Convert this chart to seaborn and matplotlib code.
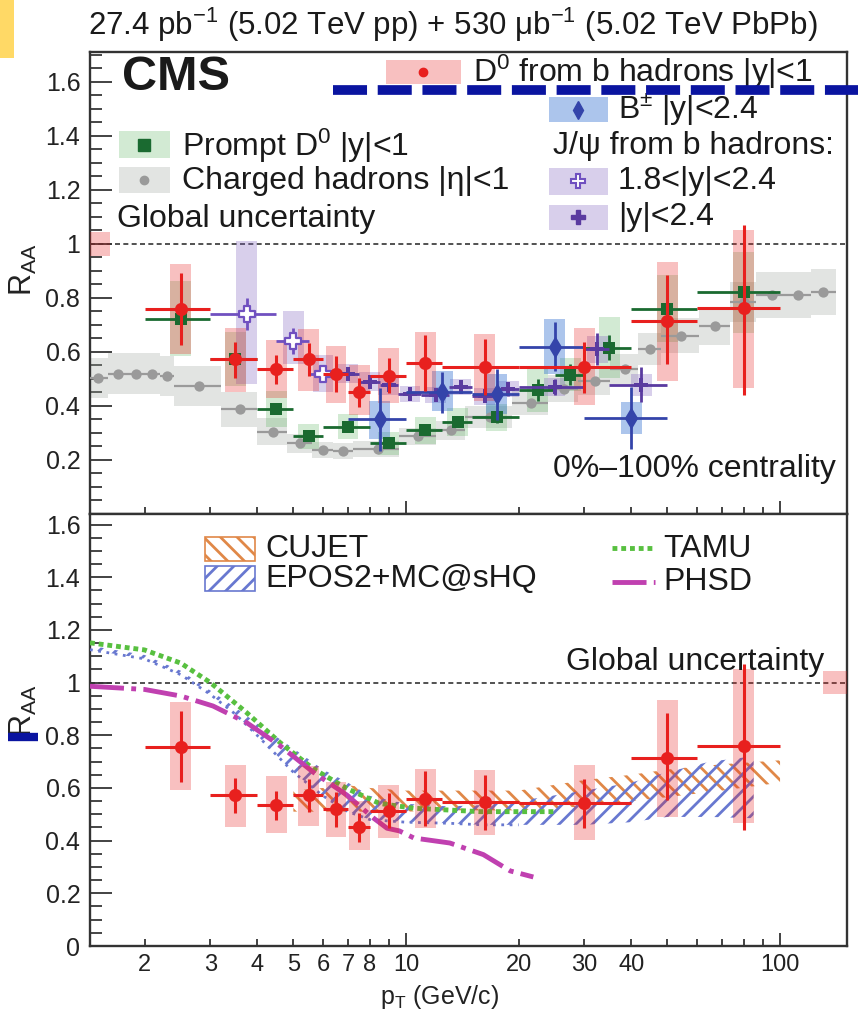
import numpy as np
import matplotlib
matplotlib.use("Agg")
import matplotlib.pyplot as plt
import seaborn as sns
from matplotlib.patches import Rectangle
from matplotlib.lines import Line2D
from matplotlib.ticker import FixedLocator, FuncFormatter, MultipleLocator

# ---------------- data ----------------
# D0 from b hadrons |y|<1 (red)
npd_pt = [2.5, 3.5, 4.5, 5.5, 6.5, 7.5, 9.0, 11.25, 16.25, 30.0, 50.0, 80.0]
npd_lo = [2, 3, 4, 5, 6, 7, 8, 10, 12.5, 20, 40, 60]
npd_hi = [3, 4, 5, 6, 7, 8, 10, 12.5, 20, 40, 60, 100]
npd_raa = [0.757, 0.572, 0.537, 0.574, 0.520, 0.450, 0.512, 0.558, 0.545, 0.544, 0.714, 0.761]
npd_stat_up = [0.135, 0.066, 0.050, 0.060, 0.064, 0.054, 0.067, 0.105, 0.103, 0.091, 0.169, 0.31]
npd_stat_dn = [0.133, 0.068, 0.057, 0.065, 0.068, 0.055, 0.065, 0.104, 0.104, 0.097, 0.160, 0.32]
npd_syst_lo = [0.591, 0.451, 0.429, 0.456, 0.412, 0.366, 0.410, 0.447, 0.420, 0.403, 0.491, 0.466]
npd_syst_hi = [0.926, 0.688, 0.645, 0.685, 0.623, 0.550, 0.613, 0.673, 0.667, 0.688, 0.934, 1.050]

# Prompt D0 |y|<1 (green)
pd_pt = [2.5, 3.5, 4.5, 5.5, 7.0, 9.0, 11.25, 13.75, 17.5, 22.5, 27.5, 35.0, 50.0, 80.0]
pd_lo = [2, 3, 4, 5, 6, 8, 10, 12.5, 15, 20, 25, 30, 40, 60]
pd_hi = [3, 4, 5, 6, 8, 10, 12.5, 15, 20, 25, 30, 40, 60, 100]
pd_raa = [0.723, 0.572, 0.389, 0.287, 0.323, 0.262, 0.310, 0.340, 0.358, 0.458, 0.516, 0.616, 0.760, 0.821]
pd_stat = [0.02, 0.02, 0.012, 0.01, 0.01, 0.01, 0.012, 0.015, 0.02, 0.04, 0.04, 0.047, 0.03, 0.03]
pd_syst = [0.14, 0.10, 0.068, 0.046, 0.046, 0.042, 0.05, 0.053, 0.05, 0.08, 0.062, 0.113, 0.125, 0.15]

# Charged hadrons |eta|<1 (grey)
ch_edges = [1.4, 1.6, 1.8, 2.0, 2.2, 2.4, 3.2, 4.0, 4.8, 5.6, 6.4, 7.2, 9.6, 12.0, 14.4,
            19.2, 24.0, 28.8, 35.2, 41.6, 48.0, 60.8, 73.6, 86.4, 103.6, 120.8, 140.8]
ch_pt = [1.5, 1.7, 1.9, 2.1, 2.3, 2.8, 3.6, 4.4, 5.2, 6.0, 6.8, 8.4, 10.8, 13.2, 16.8,
         21.6, 26.4, 32.0, 38.4, 44.8, 54.4, 67.2, 80.0, 95.0, 112.0, 130.0]
ch_raa = [0.504, 0.520, 0.520, 0.520, 0.511, 0.474, 0.387, 0.305, 0.262, 0.238, 0.234, 0.240,
          0.287, 0.310, 0.360, 0.412, 0.464, 0.491, 0.538, 0.611, 0.660, 0.694, 0.785, 0.81, 0.81, 0.821]
ch_syst = [0.075, 0.075, 0.075, 0.075, 0.075, 0.075, 0.065, 0.05, 0.035, 0.03, 0.03, 0.03,
           0.03, 0.035, 0.04, 0.045, 0.05, 0.05, 0.055, 0.06, 0.065, 0.07, 0.075, 0.085, 0.085, 0.085]
ch_stat = 0.005

# B+- |y|<2.4 (blue)
b_pt = [8.5, 12.5, 17.5, 25.0, 40.0]
b_lo = [7, 10, 15, 20, 30]
b_hi = [10, 15, 20, 30, 50]
b_raa = [0.350, 0.450, 0.443, 0.619, 0.354]
b_stat = [0.115, 0.075, 0.095, 0.09, 0.115]
b_syst_lo = [0.277, 0.38, 0.37, 0.52, 0.296]
b_syst_hi = [0.42, 0.53, 0.52, 0.72, 0.414]

# J/psi from b hadrons 1.8<|y|<2.4 (open purple)
jf_pt = [3.75, 5.0, 6.0]
jf_lo = [3.0, 4.5, 5.5]
jf_hi = [4.5, 5.5, 6.5]
jf_raa = [0.740, 0.641, 0.520]
jf_stat = [0.06, 0.047, 0.03]
jf_syst_lo = [0.482, 0.557, 0.45]
jf_syst_hi = [1.011, 0.75, 0.59]

# J/psi from b hadrons |y|<2.4 (filled purple)
jc_pt = [7.0, 8.0, 9.0, 10.25, 12.0, 14.0, 16.25, 18.75, 25.0, 32.5, 42.5]
jc_lo = [6.5, 7.5, 8.5, 9.5, 11, 13, 15, 17.5, 20, 30, 35]
jc_hi = [7.5, 8.5, 9.5, 11, 13, 15, 17.5, 20, 30, 35, 50]
jc_raa = [0.520, 0.489, 0.477, 0.445, 0.440, 0.470, 0.435, 0.462, 0.470, 0.610, 0.478]
jc_stat = [0.02, 0.02, 0.02, 0.02, 0.02, 0.02, 0.02, 0.025, 0.03, 0.06, 0.065]
jc_syst = [0.035, 0.035, 0.035, 0.03, 0.03, 0.03, 0.03, 0.03, 0.035, 0.05, 0.04]

# global uncertainty
glob_lo, glob_hi = 0.955, 1.045

# models (bottom panel)
tamu_pt = [1.43, 2.0, 2.5, 3.0, 3.75, 4.6, 5.65, 6.95, 8.5, 10.5, 15.8, 25.0]
tamu_raa = [1.151, 1.124, 1.074, 1.0, 0.886, 0.773, 0.673, 0.598, 0.541, 0.523, 0.51, 0.51]

phsd_pt = [1.43, 2.0, 2.5, 3.05, 3.75, 4.6, 5.65, 6.95, 8.2, 8.9, 9.6, 10.5, 13.1, 16.1, 19.0, 21.9]
phsd_raa = [0.986, 0.974, 0.949, 0.911, 0.848, 0.761, 0.66, 0.573, 0.485, 0.447, 0.437, 0.41, 0.391, 0.347, 0.285, 0.262]

epos_pt = [1.43, 2.0, 2.5, 3.0, 3.5, 4.0, 5.0, 6.0, 7.0, 8.0, 10.0, 13.0, 16.0, 20.0, 30.0, 40.0, 50.0, 65.0, 85.0]
epos_lo = [1.125, 1.09, 1.03, 0.955, 0.88, 0.80, 0.66, 0.57, 0.51, 0.48, 0.47, 0.466, 0.46, 0.46, 0.46, 0.47, 0.49, 0.49, 0.485]
epos_hi = [1.14, 1.105, 1.045, 0.97, 0.905, 0.845, 0.75, 0.67, 0.62, 0.57, 0.54, 0.53, 0.535, 0.55, 0.59, 0.62, 0.66, 0.70, 0.72]

cujet_pt = [5.0, 6.0, 7.0, 8.0, 10.0, 13.0, 20.0, 30.0, 40.0, 50.0, 70.0, 100.0]
cujet_lo = [0.51, 0.51, 0.51, 0.51, 0.51, 0.515, 0.515, 0.53, 0.55, 0.565, 0.59, 0.62]
cujet_hi = [0.59, 0.60, 0.61, 0.60, 0.59, 0.59, 0.59, 0.63, 0.65, 0.67, 0.69, 0.705]

x_major = [10, 100]
x_minor = [2, 3, 4, 5, 6, 7, 8, 9, 20, 30, 40, 50, 60, 70, 80, 90]
x_minor_labels = {2: "2", 3: "3", 4: "4", 5: "5", 6: "6", 7: "7", 8: "8", 20: "20", 30: "30", 40: "40"}

# ---------------- style ----------------
sns.set_theme(style="white")
plt.rcParams['font.family'] = ['Liberation Sans', 'DejaVu Sans']
plt.rcParams['mathtext.default'] = 'regular'
plt.rcParams['hatch.linewidth'] = 2.0

RED = '#e8201e'
GREEN = '#1a6a30'
GREY = '#9a9a9a'
BLUE = '#3444aa'
PURP_O = '#7050c0'
PURP_F = '#5a3aa0'
TXT = '#1a1a1a'
FS = 23

fig = plt.figure(figsize=(8.58, 10.14), dpi=100)
W, H = 858.0, 1014.0
ax1 = fig.add_axes([90 / W, 1 - 514 / H, 757 / W, 462 / H])
ax2 = fig.add_axes([90 / W, 1 - 946 / H, 757 / W, 432 / H])

HW = 0.028  # half width of systematic boxes in log10 units


def sysboxes(ax, pts, lo, hi, color, alpha, z, edges=None):
    pts = np.asarray(pts, float)
    lo = np.asarray(lo, float)
    hi = np.asarray(hi, float)
    if edges is None:
        left = pts * 10 ** (-HW)
        right = pts * 10 ** HW
    else:
        left, right = np.asarray(edges[0], float), np.asarray(edges[1], float)
    ax.bar(left, hi - lo, width=right - left, bottom=lo, align='edge',
           color=color, alpha=alpha, linewidth=0, zorder=z)


def errs(ax, pts, vals, xlo, xhi, ydn, yup, color, lw, z):
    pts = np.asarray(pts, float)
    n = len(pts)
    ydn = np.broadcast_to(np.asarray(ydn, float), (n,))
    yup = np.broadcast_to(np.asarray(yup, float), (n,))
    ax.errorbar(pts, vals, xerr=[pts - np.asarray(xlo, float), np.asarray(xhi, float) - pts],
                yerr=np.vstack([ydn, yup]), fmt='none', ecolor=color, elinewidth=lw, capsize=0, zorder=z)


def draw_npd(ax):
    sysboxes(ax, npd_pt, npd_syst_lo, npd_syst_hi, RED, 0.28, 6)
    errs(ax, npd_pt, npd_raa, npd_lo, npd_hi, npd_stat_dn, npd_stat_up, RED, 2.2, 12)
    sns.scatterplot(x=npd_pt, y=npd_raa, ax=ax, marker='o', s=90, color=RED,
                    linewidth=0, zorder=13, legend=False)


# ---------------- top panel ----------------
ax = ax1
ch_l = np.array(ch_edges[:-1]); ch_r = np.array(ch_edges[1:])
sysboxes(ax, ch_pt, np.array(ch_raa) - np.array(ch_syst), np.array(ch_raa) + np.array(ch_syst),
         '#a0a8a0', 0.3, 2, edges=(ch_l, ch_r))
sysboxes(ax, pd_pt, np.array(pd_raa) - np.array(pd_syst), np.array(pd_raa) + np.array(pd_syst),
         '#4caf50', 0.25, 3)
sysboxes(ax, jf_pt, jf_syst_lo, jf_syst_hi, '#8060c0', 0.3, 4)
sysboxes(ax, jc_pt, np.array(jc_raa) - np.array(jc_syst), np.array(jc_raa) + np.array(jc_syst),
         '#8060c0', 0.3, 4)
sysboxes(ax, b_pt, b_syst_lo, b_syst_hi, '#3070d0', 0.4, 5)

errs(ax, ch_pt, ch_raa, ch_l, ch_r, ch_stat, ch_stat, GREY, 1.6, 7)
sns.scatterplot(x=ch_pt, y=ch_raa, ax=ax, marker='o', s=55, color=GREY, linewidth=0, zorder=8, legend=False)

errs(ax, pd_pt, pd_raa, pd_lo, pd_hi, pd_stat, pd_stat, GREEN, 2.0, 9)
sns.scatterplot(x=pd_pt, y=pd_raa, ax=ax, marker='s', s=85, color=GREEN, linewidth=0, zorder=9, legend=False)

errs(ax, jc_pt, jc_raa, jc_lo, jc_hi, jc_stat, jc_stat, PURP_F, 2.0, 10)
sns.scatterplot(x=jc_pt, y=jc_raa, ax=ax, marker='P', s=110, color=PURP_F, linewidth=0, zorder=10, legend=False)
errs(ax, jf_pt, jf_raa, jf_lo, jf_hi, jf_stat, jf_stat, PURP_O, 2.0, 10)
sns.scatterplot(x=jf_pt, y=jf_raa, ax=ax, marker='P', s=130, color='white', edgecolor=PURP_O,
                linewidth=1.6, zorder=10, legend=False)

errs(ax, b_pt, b_raa, b_lo, b_hi, b_stat, b_stat, BLUE, 2.0, 11)
sns.scatterplot(x=b_pt, y=b_raa, ax=ax, marker='d', s=130, color=BLUE, linewidth=0, zorder=11, legend=False)

draw_npd(ax)
ax.bar([1.43], [glob_hi - glob_lo], width=[1.62 - 1.43], bottom=[glob_lo], align='edge',
       color=RED, alpha=0.28, linewidth=0, zorder=6)

# ---------------- bottom panel ----------------
ax = ax2
ax.fill_between(cujet_pt, cujet_lo, cujet_hi, facecolor='none', edgecolor='#e08848',
                hatch='\\\\', linewidth=0, zorder=3)
ax.fill_between(epos_pt, epos_lo, epos_hi, facecolor='none', edgecolor='#6878d0',
                hatch='//', linewidth=0, zorder=3)
ep_mask = np.array(epos_pt) <= 25
sns.lineplot(x=np.array(epos_pt)[ep_mask], y=np.array(epos_lo)[ep_mask], ax=ax, color='#6878d0',
             lw=2.0, linestyle=(0, (1, 2)), zorder=3, legend=False)
sns.lineplot(x=tamu_pt, y=tamu_raa, ax=ax, color='#58c040', lw=3.5,
             linestyle=(0, (1, 0.8)), zorder=4, legend=False)
sns.lineplot(x=phsd_pt, y=phsd_raa, ax=ax, color='#c040b0', lw=3.5,
             linestyle=(0, (7, 1.5, 1.0, 1.5)), zorder=4, legend=False)
draw_npd(ax)
ax.bar([130.0], [glob_hi - glob_lo], width=[151 - 130.0], bottom=[glob_lo], align='edge',
       color=RED, alpha=0.28, linewidth=0, zorder=6)

# ---------------- axes cosmetics ----------------
for a, ylim, show0 in ((ax1, (0, 1.71), False), (ax2, (0, 1.64), True)):
    a.set_xscale('log')
    a.set_xlim(1.43, 151)
    a.set_ylim(*ylim)
    a.axhline(1.0, color='#333333', lw=1.2, ls=(0, (3, 2)), zorder=1)
    a.xaxis.set_major_locator(FixedLocator(x_major))
    a.xaxis.set_minor_locator(FixedLocator(x_minor))
    a.yaxis.set_major_locator(MultipleLocator(0.2))
    a.yaxis.set_minor_locator(MultipleLocator(0.05))
    if show0:
        a.yaxis.set_major_formatter(FuncFormatter(lambda v, p: f"{v:g}" if abs(v) < 1.65 else ""))
    else:
        a.yaxis.set_major_formatter(FuncFormatter(lambda v, p: f"{v:g}" if 0.1 < v < 1.65 else ""))
    a.tick_params(axis='x', which='major', direction='in', length=9.5, width=1.2,
                  bottom=True, top=False, labelsize=17, pad=6, colors='#222222')
    a.tick_params(axis='x', which='minor', direction='in', length=5, width=1.2,
                  bottom=True, top=False, labelsize=17, pad=6, colors='#222222')
    a.tick_params(axis='y', which='major', direction='in', length=16, width=1.2,
                  left=True, right=False, labelsize=18, pad=7, colors='#222222')
    a.tick_params(axis='y', which='minor', direction='in', length=8.5, width=1.2,
                  left=True, right=False)
    for s in a.spines.values():
        s.set_color('#333333')
        s.set_linewidth(1.7)
    a.set_ylabel("R$_{AA}$", fontsize=22, color='#222222')
    a.yaxis.set_label_coords(-0.068, 0.53 if a is ax1 else 0.545)

ax1.tick_params(axis='x', which='both', labelbottom=False)
ax2.xaxis.set_major_formatter(FuncFormatter(lambda v, p: f"{v:g}"))
ax2.xaxis.set_minor_formatter(FuncFormatter(lambda v, p: x_minor_labels.get(int(round(v)), "")))
ax2.set_xlabel("p$_{T}$ (GeV/c)", fontsize=18, color='#222222')
ax2.xaxis.set_label_coords(0.462, -0.085)

# ---------------- texts and legends ----------------
def px_top(px, py):
    return (px - 90) / 757.0, (514 - py) / 462.0


def px_bot(px, py):
    return (px - 90) / 757.0, (946 - py) / 432.0


def swatch(ax, conv, x0, y0, x1, y1, fc, alpha, hatch=None, ec=None):
    ax0, ay0 = conv(x0, y1)
    ax1_, ay1 = conv(x1, y0)
    if hatch:
        r = Rectangle((ax0, ay0), ax1_ - ax0, ay1 - ay0, transform=ax.transAxes, facecolor='white',
                      edgecolor=ec, hatch=hatch, linewidth=1.2, clip_on=False, zorder=20)
    else:
        r = Rectangle((ax0, ay0), ax1_ - ax0, ay1 - ay0, transform=ax.transAxes, facecolor=fc,
                      alpha=alpha, edgecolor='none', clip_on=False, zorder=20)
    ax.add_patch(r)


def mark(ax, conv, px, py, **kw):
    x, y = conv(px, py)
    ax.add_line(Line2D([x], [y], transform=ax.transAxes, linestyle='none', zorder=21, **kw))


def text(ax, conv, px, py, s, size=FS, **kw):
    x, y = conv(px, py)
    ax.text(x, y, s, transform=ax.transAxes, fontsize=size, va='center', color=TXT, zorder=22, **kw)


T = px_top
swatch(ax1, T, 386, 60, 461, 84, RED, 0.28)
mark(ax1, T, 423, 72, marker='o', ms=6, color=RED, mec=RED)
text(ax1, T, 473, 72, "D$^{0}$ from b hadrons |y|<1")
swatch(ax1, T, 549, 97, 608, 122, '#3070d0', 0.4)
mark(ax1, T, 578, 110, marker='d', ms=9, color=BLUE, mec=BLUE)
text(ax1, T, 618, 110, "B$^{\\pm}$ |y|<2.4")
text(ax1, T, 553, 146, "J/ψ from b hadrons:")
swatch(ax1, T, 549, 168, 608, 195, '#8060c0', 0.3)
mark(ax1, T, 578, 181, marker='P', ms=10, color='white', mec=PURP_O, mew=1.5)
text(ax1, T, 618, 181, "1.8<|y|<2.4")
swatch(ax1, T, 549, 205, 608, 230, '#8060c0', 0.3)
mark(ax1, T, 578, 217, marker='P', ms=10, color=PURP_F, mec=PURP_F)
text(ax1, T, 618, 217, "|y|<2.4")
swatch(ax1, T, 119, 131, 170, 158, '#4caf50', 0.25)
mark(ax1, T, 144, 145, marker='s', ms=8, color=GREEN, mec=GREEN)
text(ax1, T, 182, 146, "Prompt D$^{0}$ |y|<1")
swatch(ax1, T, 119, 167, 170, 193, '#a0a8a0', 0.3)
mark(ax1, T, 144, 180, marker='o', ms=6, color=GREY, mec=GREY)
text(ax1, T, 182, 181, "Charged hadrons |η|<1")
text(ax1, T, 117, 219, "Global uncertainty")
text(ax1, T, 122, 78, "CMS", size=35, fontweight='bold')
x, y = T(836, 469)
ax1.text(x, y, "0%–100% centrality", transform=ax1.transAxes, fontsize=FS, ha='right',
         va='center', color=TXT, zorder=22)

B = px_bot
swatch(ax2, B, 205, 537, 255, 561, None, 1, hatch='\\\\', ec='#e08848')
text(ax2, B, 265, 549, "CUJET")
swatch(ax2, B, 205, 566, 255, 591, None, 1, hatch='//', ec='#6878d0')
text(ax2, B, 265, 579, "EPOS2+MC@sHQ")
x0, y0 = B(612, 548); x1, y1 = B(655, 548)
ax2.add_line(Line2D([x0, x1], [y0, y1], transform=ax2.transAxes, color='#58c040', lw=3.5,
                    linestyle=(0, (1, 0.8)), zorder=21))
text(ax2, B, 663, 549, "TAMU")
x0, y0 = B(612, 582); x1, y1 = B(655, 582)
ax2.add_line(Line2D([x0, x1], [y0, y1], transform=ax2.transAxes, color='#c040b0', lw=3.5,
                    linestyle=(0, (7, 1.5, 1.0, 1.5)), zorder=21))
text(ax2, B, 663, 582, "PHSD")
x, y = B(824, 662)
ax2.text(x, y, "Global uncertainty", transform=ax2.transAxes, fontsize=FS, ha='right',
         va='center', color=TXT, zorder=22)

# title
fig.text(453 / W, 1 - 25 / H, "27.4 pb$^{-1}$ (5.02 TeV pp) + 530 μb$^{-1}$ (5.02 TeV PbPb)",
         fontsize=22.5, ha='center', va='center', color=TXT)

# overlay annotations present on the reference image
fig.patches.append(Rectangle((0, 1 - 58 / H), 14 / W, 58 / H, transform=fig.transFigure,
                             facecolor='#ffd966', edgecolor='none', zorder=30))
fig.lines.append(Line2D([333 / W, 1.0], [1 - 90 / H, 1 - 90 / H], transform=fig.transFigure,
                        color='#0a14a0', lw=7, linestyle=(0, (3.5, 1.1)), zorder=30))
fig.lines.append(Line2D([8 / W, 38 / W], [1 - 737 / H, 1 - 737 / H], transform=fig.transFigure,
                        color='#0a14a0', lw=6, zorder=30, solid_capstyle='butt'))

fig.savefig("out.png", dpi=100)
